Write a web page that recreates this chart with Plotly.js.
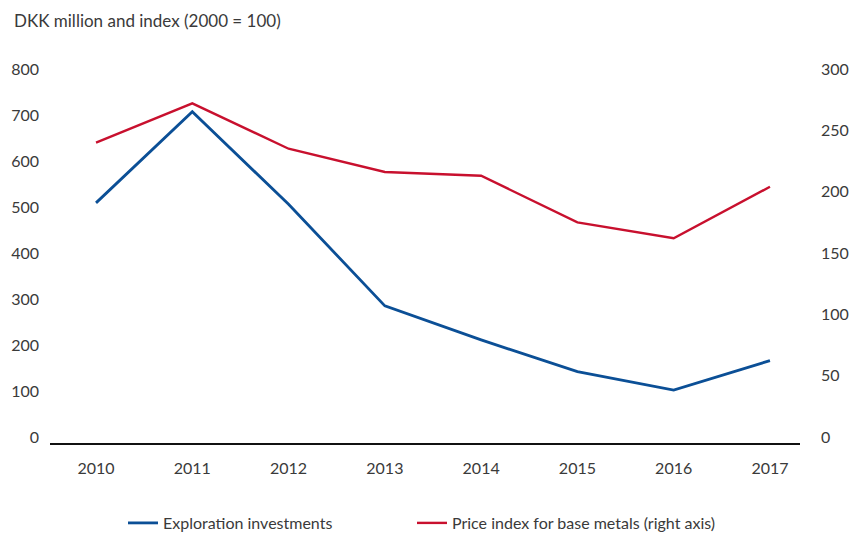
<!DOCTYPE html>
<html>
<head>
<meta charset="utf-8">
<script src="https://cdn.plot.ly/plotly-3.0.1.min.js"></script>
<style>html,body{margin:0;padding:0;background:#fff;}#chart{width:854px;height:534px;}</style>
</head>
<body>
<div id="chart"></div>
<script>
const years = [2010, 2011, 2012, 2013, 2014, 2015, 2016, 2017];
const yearLabels = ["2010", "2011", "2012", "2013", "2014", "2015", "2016", "2017"];
const explorationInvestments = [509, 707, 506, 285, 211, 142, 102, 166];
const priceIndexBaseMetals = [240, 272, 235, 216, 213, 175, 162, 204];
const leftTicks = [0, 100, 200, 300, 400, 500, 600, 700, 800];
const rightTicks = [0, 50, 100, 150, 200, 250, 300];

const FONT = "Lato, 'Open Sans', sans-serif";
const TXT = "#3a3a3a";

const traces = [
  {
    x: years, y: explorationInvestments, type: "scatter", mode: "lines",
    name: "Exploration investments",
    line: {color: "#0b4f96", width: 2.8},
    yaxis: "y", legend: "legend"
  },
  {
    x: years, y: priceIndexBaseMetals, type: "scatter", mode: "lines",
    name: "Price index for base metals (right axis)",
    line: {color: "#c8102e", width: 2.4},
    yaxis: "y2", legend: "legend2"
  }
];

const legendBase = {
  orientation: "h",
  xref: "container", yref: "container",
  xanchor: "left",
  y: 11 / 534, yanchor: "middle",
  font: {family: FONT, size: 16, color: TXT},
  bgcolor: "rgba(0,0,0,0)"
};

const layout = {
  width: 854, height: 534,
  margin: {l: 50, r: 54, t: 69, b: 91},
  paper_bgcolor: "#ffffff", plot_bgcolor: "rgba(0,0,0,0)",
  font: {family: FONT, size: 16, color: TXT},
  showlegend: true,
  xaxis: {
    range: [2009.522, 2017.312],
    tickvals: years, ticktext: yearLabels,
    showgrid: false, zeroline: false,
    showline: true, linecolor: "#111", linewidth: 1.5,
    ticks: "", ticklabelstandoff: 10,
    tickfont: {family: FONT, size: 16, color: TXT},
    fixedrange: true
  },
  yaxis: {
    range: [-13.04, 800],
    tickvals: leftTicks,
    showgrid: false, zeroline: false, showline: false,
    ticks: "", ticklabelstandoff: 10,
    tickfont: {family: FONT, size: 16, color: TXT}
  },
  yaxis2: {
    range: [-4.89, 300],
    tickvals: rightTicks,
    overlaying: "y", side: "right",
    showgrid: false, zeroline: false, showline: false,
    ticks: "", ticklabelstandoff: 20,
    tickfont: {family: FONT, size: 16, color: TXT}
  },
  legend: Object.assign({}, legendBase, {x: 123 / 854}),
  legend2: Object.assign({}, legendBase, {x: 412 / 854}),
  annotations: [
    {
      text: "DKK million and index (2000 = 100)",
      xref: "paper", yref: "paper",
      x: -0.0507, y: 1.131, xanchor: "left", yanchor: "middle",
      showarrow: false,
      font: {family: FONT, size: 17, color: TXT}
    }
  ]
};

Plotly.newPlot("chart", traces, layout, {displayModeBar: false, staticPlot: true});
</script>
</body>
</html>
